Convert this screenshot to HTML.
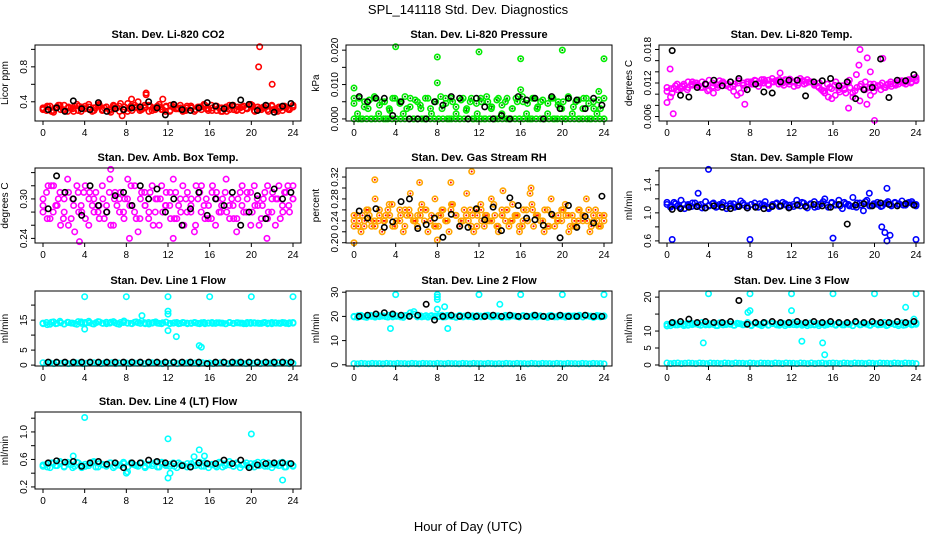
<!DOCTYPE html>
<html><head><meta charset="utf-8"><style>
body{margin:0;background:#fff;}
svg{display:block;font-family:"Liberation Sans",sans-serif;}
.t{font-weight:bold;font-size:11px;}
.tk{font-size:10px;}
</style></head><body>
<svg id="c" width="936" height="540">
<text x="468" y="14" text-anchor="middle" font-size="13">SPL_141118  Std. Dev. Diagnostics</text>
<text x="468" y="531" text-anchor="middle" font-size="13">Hour of Day (UTC)</text>
</svg>
<script>
const xTicks=[0,4,8,12,16,20,24];
// CO2
const co2Main=[0.33,0.30,0.35,0.28,0.34,0.31,0.36,0.29,0.33,0.35,0.30,0.34,0.32,0.37,0.29,0.33,0.35,0.31,0.34,0.30,0.36,0.33,0.38,0.31,0.29,0.35,0.33,0.40,0.31,0.34,0.36,0.30,0.33,0.37,0.31,0.35,0.29,0.34,0.32,0.36,0.30,0.33,0.35,0.29,0.34,0.31,0.36,0.32,0.30,0.35,0.33,0.29,0.34,0.31,0.36,0.30,0.33,0.35,0.32,0.37,0.30,0.34,0.31,0.33,0.29,0.35,0.32,0.34,0.30,0.33,0.31,0.34];
const co2B=[0.31,0.35,0.29,0.33,0.36,0.30,0.34,0.32,0.37,0.29,0.35,0.31,0.33,0.36,0.30,0.34,0.28,0.33,0.35,0.31,0.38,0.30,0.34,0.32,0.36,0.29,0.33,0.35,0.31,0.34,0.30,0.36,0.32,0.29,0.35,0.33,0.31,0.34,0.37,0.30,0.33,0.35,0.29,0.32,0.36,0.31,0.34,0.30,0.33,0.35,0.29,0.32,0.34,0.31,0.36,0.30,0.33,0.35,0.31,0.34];
const co2C=[0.32,0.34,0.30,0.36,0.31,0.33,0.29,0.35,0.32,0.34,0.30,0.37,0.33,0.31,0.35,0.29,0.34,0.32,0.36,0.30,0.33,0.35,0.31,0.34,0.29,0.36,0.32,0.33,0.30,0.35,0.31,0.34,0.32,0.36,0.30,0.33,0.29,0.35,0.31,0.34,0.32,0.36,0.30,0.33,0.35,0.31,0.29,0.34,0.32,0.36];
const co2Black=[0.31,0.33,0.29,0.41,0.32,0.31,0.39,0.29,0.32,0.31,0.33,0.34,0.40,0.33,0.25,0.37,0.31,0.30,0.33,0.39,0.35,0.32,0.36,0.42,0.37,0.30,0.36,0.28,0.35,0.38];
const co2OutX=[20.8,20.7,22.0,9.9,9.9,8.5,7.6,11.5];
const co2OutY=[1.03,0.80,0.60,0.50,0.48,0.43,0.24,0.43];
// Pressure
const presMain=[0.006,0.0015,0.0,0.005,0.003,0.0,0.006,0.0015,0.005,0.0,0.003,0.006,0.0,0.005,0.0015,0.003,0.006,0.0,0.005,0.003,0.0,0.006,0.0015,0.005,0.0,0.003,0.006,0.0,0.005,0.0015,0.0,0.006,0.003,0.005,0.0,0.0015,0.006,0.0,0.005,0.003,0.0,0.006,0.0015,0.005,0.0,0.003,0.006,0.0,0.005,0.0015,0.0,0.006,0.003,0.005,0.0,0.0015,0.006,0.0,0.005,0.003,0.0,0.006,0.0015,0.005,0.0,0.003,0.006,0.0,0.005,0.0015,0.003,0.0];
const presB=[0.0,0.0,0.0,0.0,0.0,0.0,0.0,0.0,0.0,0.0,0.0,0.0,0.0,0.0,0.0,0.0,0.0,0.0,0.0,0.0,0.0,0.0,0.0,0.0,0.0,0.0,0.0,0.0,0.0,0.0,0.0,0.0,0.0,0.0,0.0,0.0,0.0,0.0,0.0,0.0,0.0,0.0,0.0,0.0,0.0,0.0,0.0,0.0,0.0,0.0,0.0,0.0,0.0,0.0,0.0,0.0,0.0,0.0,0.0,0.0];
const presC=[0.0045,0.006,0.0035,0.0055,0.0065,0.004,0.005,0.0025,0.006,0.0045,0.0065,0.0035,0.0055,0.004,0.006,0.003,0.005,0.0065,0.0045,0.006,0.0035,0.0055,0.0025,0.006,0.0045,0.005,0.0065,0.0035,0.0055,0.004,0.006,0.003,0.005,0.0065,0.0045,0.006,0.0035,0.0055,0.0045,0.006,0.004,0.005,0.0065,0.0035,0.0055,0.006,0.0045,0.003,0.0055,0.006];
const presBlack=[0.0065,0.005,0.006,0.006,0.001,0.005,0.0,0.0,0.0,0.005,0.004,0.0065,0.006,0.0,0.006,0.0035,0.0,0.001,0.0,0.0065,0.0055,0.006,0.0,0.0065,0.003,0.006,0.0055,0.003,0.006,0.004];
const presOutX=[0,4,8,8,12,16,16,20,24,23.5];
const presOutY=[0.009,0.021,0.018,0.0105,0.0195,0.0175,0.0085,0.020,0.0175,0.008];
// Temp
const tempMain=[0.0085,0.0095,0.011,0.0108,0.011,0.0115,0.0112,0.0118,0.012,0.0115,0.0122,0.0118,0.0125,0.012,0.0118,0.0124,0.012,0.0115,0.0112,0.0105,0.0098,0.0102,0.011,0.0118,0.0122,0.0125,0.012,0.0126,0.0123,0.0125,0.0128,0.0124,0.0126,0.012,0.0125,0.0127,0.0122,0.0125,0.0128,0.0124,0.0126,0.0122,0.0118,0.0114,0.0108,0.0102,0.0095,0.0092,0.0098,0.0108,0.0115,0.0102,0.0125,0.0095,0.0135,0.0088,0.011,0.0082,0.0098,0.0105,0.0115,0.0108,0.0112,0.0118,0.0114,0.012,0.0118,0.0124,0.0122,0.0126,0.0128,0.013];
const tempB=[0.0105,0.011,0.0115,0.0112,0.0118,0.0122,0.0116,0.012,0.0112,0.0118,0.0108,0.0102,0.0112,0.012,0.0116,0.0122,0.0118,0.0124,0.012,0.0122,0.0118,0.0124,0.012,0.0126,0.0118,0.0122,0.0124,0.012,0.0126,0.0118,0.0122,0.0116,0.0124,0.012,0.0122,0.0118,0.0112,0.0105,0.0118,0.011,0.0122,0.0112,0.0108,0.012,0.0102,0.0112,0.0118,0.0122,0.0112,0.0118,0.0115,0.012,0.0116,0.0122,0.0118,0.0124,0.012,0.0125,0.0122,0.0126];
const tempC=[0.0112,0.0102,0.0118,0.0114,0.0108,0.0122,0.0116,0.0112,0.0106,0.0114,0.0116,0.0122,0.0118,0.0114,0.012,0.0116,0.0122,0.0118,0.0114,0.012,0.0116,0.0122,0.0118,0.0116,0.0122,0.0114,0.012,0.0118,0.0122,0.0116,0.012,0.0106,0.0112,0.0116,0.0104,0.011,0.0112,0.0106,0.0114,0.0108,0.0118,0.0112,0.0116,0.0112,0.0118,0.0116,0.0122,0.0118,0.012,0.0124];
const tempBlack=[0.0178,0.0098,0.0095,0.0112,0.0118,0.0125,0.0115,0.0122,0.0128,0.0108,0.0118,0.0104,0.0102,0.0122,0.0125,0.0125,0.0097,0.0122,0.0124,0.0128,0.0115,0.0122,0.0092,0.0108,0.0112,0.0163,0.0094,0.0125,0.0124,0.0135];
const tempOutX=[0.3,0.6,18.6,18.5,19.3,19.6,20.8,20.0,17.5,7.5,10.9];
const tempOutY=[0.0145,0.0065,0.018,0.0152,0.0165,0.014,0.0164,0.0053,0.0075,0.0082,0.0138];
// Amb box temp
const ambMain=[0.28,0.31,0.27,0.32,0.29,0.26,0.30,0.33,0.27,0.25,0.31,0.28,0.32,0.26,0.29,0.31,0.27,0.30,0.28,0.33,0.26,0.29,0.31,0.27,0.30,0.32,0.28,0.25,0.31,0.29,0.27,0.32,0.30,0.26,0.28,0.31,0.29,0.33,0.27,0.30,0.26,0.31,0.28,0.25,0.30,0.32,0.27,0.29,0.31,0.26,0.28,0.30,0.33,0.27,0.29,0.25,0.31,0.28,0.30,0.26,0.32,0.29,0.27,0.31,0.28,0.30,0.26,0.32,0.29,0.31,0.28,0.30];
const ambB=[0.30,0.27,0.32,0.29,0.31,0.28,0.26,0.30,0.32,0.29,0.27,0.31,0.30,0.28,0.32,0.29,0.26,0.31,0.30,0.28,0.33,0.29,0.27,0.30,0.31,0.28,0.26,0.30,0.32,0.29,0.31,0.27,0.29,0.32,0.28,0.30,0.26,0.31,0.29,0.27,0.32,0.30,0.28,0.31,0.29,0.27,0.30,0.32,0.28,0.31,0.29,0.26,0.30,0.32,0.28,0.30,0.27,0.31,0.29,0.32];
const ambC=[0.29,0.32,0.28,0.30,0.27,0.31,0.29,0.28,0.31,0.30,0.28,0.29,0.27,0.31,0.30,0.28,0.30,0.29,0.32,0.27,0.29,0.31,0.28,0.30,0.29,0.27,0.31,0.28,0.30,0.29,0.32,0.28,0.30,0.27,0.31,0.29,0.28,0.30,0.27,0.29,0.31,0.28,0.30,0.29,0.27,0.31,0.30,0.28,0.32,0.30];
const ambBlack=[0.285,0.335,0.31,0.30,0.275,0.32,0.29,0.28,0.305,0.31,0.29,0.32,0.30,0.315,0.28,0.30,0.26,0.285,0.31,0.275,0.30,0.29,0.31,0.26,0.28,0.305,0.27,0.315,0.30,0.31];
const ambOutX=[6.5,3.5,12.5,8.3,21.5];
const ambOutY=[0.345,0.235,0.24,0.24,0.24];
// RH
const rhMain=[0.23,0.25,0.22,0.24,0.26,0.23,0.28,0.24,0.22,0.25,0.27,0.23,0.24,0.26,0.22,0.25,0.29,0.24,0.23,0.26,0.24,0.22,0.25,0.28,0.23,0.26,0.24,0.22,0.27,0.25,0.23,0.24,0.29,0.26,0.22,0.25,0.27,0.23,0.24,0.28,0.25,0.22,0.26,0.24,0.23,0.27,0.25,0.22,0.24,0.26,0.29,0.23,0.25,0.24,0.22,0.26,0.28,0.23,0.25,0.24,0.27,0.22,0.25,0.23,0.26,0.24,0.28,0.22,0.25,0.24,0.23,0.25];
const rhB=[0.24,0.23,0.25,0.26,0.24,0.23,0.25,0.24,0.26,0.27,0.24,0.25,0.23,0.26,0.24,0.25,0.27,0.26,0.24,0.23,0.25,0.26,0.24,0.27,0.25,0.23,0.26,0.24,0.25,0.23,0.26,0.25,0.24,0.27,0.23,0.25,0.26,0.24,0.25,0.23,0.26,0.24,0.27,0.25,0.24,0.26,0.23,0.25,0.24,0.26,0.25,0.23,0.24,0.26,0.25,0.24,0.23,0.26,0.25,0.24];
const rhC=[0.25,0.24,0.23,0.25,0.24,0.26,0.24,0.25,0.23,0.24,0.26,0.25,0.24,0.25,0.26,0.24,0.23,0.25,0.24,0.26,0.25,0.24,0.25,0.23,0.26,0.24,0.25,0.24,0.23,0.25,0.26,0.24,0.25,0.23,0.24,0.26,0.25,0.24,0.23,0.25,0.24,0.26,0.25,0.23,0.24,0.25,0.26,0.24,0.23,0.25];
const rhBlack=[0.258,0.245,0.262,0.228,0.238,0.275,0.28,0.226,0.233,0.245,0.21,0.252,0.23,0.228,0.262,0.242,0.265,0.222,0.282,0.268,0.245,0.242,0.232,0.252,0.209,0.268,0.228,0.248,0.236,0.285];
const rhOutX=[11.3,2.0,6.3,9.3,0.0,8.0,14.3,17.0];
const rhOutY=[0.33,0.315,0.31,0.31,0.20,0.205,0.295,0.30];
// Sample flow
const sfMain=[1.12,1.08,1.15,1.10,1.18,1.06,1.12,1.09,1.14,1.11,1.07,1.16,1.10,1.13,1.08,1.12,1.15,1.06,1.10,1.13,1.09,1.17,1.11,1.07,1.12,1.14,1.08,1.11,1.16,1.06,1.10,1.13,1.09,1.15,1.11,1.08,1.12,1.18,1.10,1.14,1.07,1.12,1.16,1.09,1.13,1.20,1.08,1.15,1.11,1.18,1.06,1.13,1.10,1.22,1.08,1.14,1.03,1.18,1.10,1.12,1.15,1.09,1.13,1.16,1.10,1.14,1.12,1.17,1.11,1.15,1.13,1.10];
const sfB=[1.15,1.10,1.13,1.08,1.12,1.10,1.14,1.09,1.12,1.07,1.11,1.14,1.09,1.12,1.10,1.13,1.08,1.11,1.14,1.10,1.12,1.09,1.13,1.11,1.08,1.12,1.14,1.10,1.13,1.11,1.09,1.12,1.15,1.10,1.13,1.08,1.12,1.16,1.11,1.14,1.12,1.10,1.15,1.12,1.09,1.14,1.11,1.16,1.10,1.13,1.12,1.10,1.14,1.12,1.15,1.13,1.11,1.14,1.16,1.12];
const sfBlack=[1.05,1.06,1.08,1.09,1.07,1.10,1.08,1.06,1.09,1.07,1.08,1.06,1.09,1.10,1.07,1.11,1.09,1.12,1.10,1.08,1.12,0.84,1.11,1.13,1.10,1.14,1.12,1.10,1.13,1.11];
const sfOutX=[4.0,0.5,8.0,16.0,24.0,21.2,21.0,21.5,20.7,21.2,19.5,3.0];
const sfOutY=[1.62,0.62,0.62,0.64,0.62,0.60,0.72,0.68,0.80,1.35,1.28,1.28];
// Line 1
const l1Main=[13.8,14.2,13.6,14.4,13.9,14.1,13.7,14.3,14.0,13.8,14.5,13.9,14.2,14.6,13.8,14.1,14.4,13.9,14.3,14.0,14.5,13.8,14.2,14.7,14.0,13.9,14.3,14.1,14.6,13.8,14.2,14.0,14.4,13.9,14.1,14.3,13.8,14.0,14.2,13.9,14.1,13.8,14.0,14.2,13.9,14.1,13.8,14.0,14.2,13.9,14.1,14.0,13.8,14.2,13.9,14.1,14.0,13.8,14.2,13.9,14.1,14.0,13.9,14.2,14.0,13.8,14.1,14.0,14.2,13.9,14.1,14.0];
const l1B=[14.0,13.5,14.3,13.8,14.6,13.7,14.2,14.0,13.6,14.4,13.9,14.1,13.7,14.5,14.0,13.8,14.3,14.1,13.6,14.2,14.0,13.8,14.4,13.9,14.1,13.7,14.2,14.0,13.8,14.3,13.9,14.1,13.8,14.2,14.0,13.9,14.1,13.8,14.2,14.0,13.9,14.1,14.0,13.8,14.2,13.9,14.1,14.0,13.8,14.2,14.0,13.9,14.1,13.8,14.2,14.0,13.9,14.1,13.8,14.2];
const l1Low=[0.8,0.6,0.7,0.5,0.8,0.6,0.7,0.5,0.6,0.8,0.7,0.5,0.6,0.7,0.8,0.6,0.5,0.7,0.6,0.8,0.5,0.7,0.6,0.7,0.5,0.8,0.6,0.7,0.5,0.6,0.8,0.7,0.6,0.5,0.7,0.6,0.8,0.5,0.7,0.6,0.8,0.6,0.7,0.5,0.8,0.6,0.7,0.5,0.6,0.8,0.7,0.5,0.6,0.7,0.8,0.6,0.5,0.7,0.6,0.8,0.5,0.7,0.6,0.7,0.5,0.8,0.6,0.7,0.5,0.6];
const l1Black=[1.0,1.0,1.0,1.0,1.0,1.0,1.0,1.0,1.0,1.0,1.0,1.0,1.0,1.0,1.0,1.0,1.0,1.0,1.0,0.5,1.0,1.0,1.0,1.0,1.0,1.0,1.0,1.0,1.0,1.0];
const l1OutX=[4,8,12,16,20,24,12,12,9.5,12,12.8,15,15.2,4];
const l1OutY=[22.8,22.8,22.8,22.8,22.8,22.8,18,17,16.5,11.5,9.5,6.5,6,12];
// Line 2
const l2Main=[20.0,19.6,20.4,19.8,20.2,20.0,19.7,20.3,20.1,19.9,20.5,19.8,20.2,20.0,19.6,20.4,21.5,22.0,19.8,20.2,20.0,19.7,20.3,20.1,19.9,20.5,19.8,20.2,20.0,19.6,20.4,19.8,20.2,20.0,19.7,20.3,20.1,19.9,20.5,19.8,20.2,20.0,19.6,20.4,19.8,20.2,20.0,19.7,20.3,20.1,19.9,20.5,19.8,20.2,20.0,19.6,20.4,19.8,20.2,20.0,19.7,20.3,20.1,19.9,20.5,19.8,20.2,20.0,19.6,20.4,19.8,20.2];
const l2B=[19.8,20.3,20.0,19.6,20.4,20.1,19.9,20.2,19.7,20.5,20.0,19.8,20.3,20.1,21.0,20.0,19.8,20.3,20.1,19.9,20.2,19.7,20.4,20.0,19.8,20.3,20.1,19.9,20.2,20.0,19.8,20.3,20.1,19.9,20.2,20.0,19.8,20.3,20.1,19.9,20.2,20.0,19.8,20.3,20.1,19.9,20.2,20.0,19.8,20.3,20.1,19.9,20.2,20.0,19.8,20.3,20.1,19.9,20.2,20.0];
const l2Low=[0.5,0.4,0.6,0.5,0.4,0.6,0.5,0.5,0.4,0.6,0.5,0.4,0.6,0.5,0.5,0.4,0.6,0.5,0.4,0.6,0.5,0.5,0.4,0.6,0.5,0.4,0.6,0.5,0.5,0.4,0.6,0.5,0.4,0.6,0.5,0.5,0.4,0.6,0.5,0.4,0.5,0.4,0.6,0.5,0.4,0.6,0.5,0.5,0.4,0.6,0.5,0.4,0.6,0.5,0.5,0.4,0.6,0.5,0.4,0.6,0.5,0.5,0.4,0.6,0.5,0.4,0.6,0.5,0.5,0.4];
const l2Black=[20.0,20.5,21.0,21.5,21.0,20.5,20.0,20.5,25.0,18.5,20.0,20.5,20.0,20.5,20.0,20.0,20.5,20.0,20.5,20.0,20.0,20.5,20.0,20.0,20.5,20.0,20.0,20.5,20.0,20.0];
const l2OutX=[4,8,12,16,20,24,3.5,9,8,14,8.7,8,8];
const l2OutY=[29,29,29,29,29,29,15,15,23,25,24,27,28];
// Line 3
const l3Main=[12.0,11.6,12.4,11.8,12.2,12.0,11.7,12.3,12.1,11.9,12.5,11.8,12.2,12.0,11.6,12.4,11.8,12.2,12.0,11.7,12.3,12.1,11.9,12.5,11.8,12.2,12.0,11.6,12.4,11.8,12.2,12.0,11.7,12.3,12.1,11.9,12.5,11.8,12.2,12.0,11.6,12.4,11.8,12.2,12.0,11.7,12.3,12.1,11.9,12.5,11.8,12.2,12.0,11.6,12.4,11.8,12.2,12.0,11.7,12.3,12.1,11.9,12.5,11.8,12.2,12.0,11.6,12.4,11.8,12.2,12.0,12.4];
const l3B=[11.5,12.2,11.8,12.0,11.6,12.3,11.9,12.1,11.7,12.2,11.8,12.0,11.6,12.3,11.9,12.1,11.7,12.2,11.8,12.0,11.6,12.3,11.9,12.1,11.7,12.2,11.8,12.0,11.6,12.3,11.9,12.1,11.7,12.2,11.8,12.0,11.6,12.3,11.9,12.1,11.7,12.2,11.8,12.0,11.6,12.3,11.9,12.1,11.7,12.2,11.8,12.0,11.6,12.3,11.9,12.1,11.7,12.2,11.8,12.0];
const l3Low=[0.6,0.4,0.5,0.6,0.4,0.5,0.6,0.5,0.4,0.6,0.5,0.4,0.6,0.5,0.5,0.4,0.6,0.5,0.4,0.6,0.5,0.5,0.4,0.6,0.5,0.4,0.6,0.5,0.5,0.4,0.6,0.5,0.4,0.6,0.5,0.5,0.4,0.6,0.5,0.4,0.6,0.4,0.5,0.6,0.4,0.5,0.6,0.5,0.4,0.6,0.5,0.4,0.6,0.5,0.5,0.4,0.6,0.5,0.4,0.6,0.5,0.5,0.4,0.6,0.5,0.4,0.6,0.5,0.5,0.4];
const l3Black=[12.5,12.8,13.5,12.5,12.8,12.5,12.5,12.8,19.0,12.0,12.5,12.5,12.8,12.5,12.5,12.8,12.5,12.8,12.5,12.8,12.5,12.5,12.8,12.5,12.8,12.5,12.5,12.8,12.5,12.8];
const l3OutX=[4,8,12,16,20,24,3.5,7.8,12,13,15,15.2,23,23.8,8];
const l3OutY=[21,21,21,21,21,21,6.5,15.5,16,7,6.5,3,17,13.5,16];
// Line 4
const l4Main=[0.50,0.53,0.48,0.55,0.51,0.54,0.49,0.56,0.52,0.50,0.55,0.48,0.53,0.51,0.56,0.49,0.54,0.52,0.50,0.55,0.48,0.53,0.51,0.54,0.42,0.55,0.52,0.50,0.55,0.48,0.53,0.51,0.56,0.49,0.54,0.52,0.50,0.55,0.48,0.53,0.51,0.54,0.49,0.56,0.52,0.50,0.55,0.48,0.53,0.51,0.56,0.49,0.54,0.52,0.50,0.55,0.48,0.53,0.51,0.54,0.49,0.56,0.52,0.50,0.55,0.48,0.53,0.51,0.56,0.49,0.54,0.50];
const l4B=[0.52,0.49,0.55,0.51,0.57,0.50,0.53,0.48,0.56,0.52,0.50,0.54,0.57,0.49,0.53,0.51,0.55,0.50,0.52,0.56,0.49,0.53,0.51,0.55,0.50,0.52,0.54,0.49,0.56,0.51,0.53,0.50,0.55,0.52,0.49,0.54,0.51,0.56,0.50,0.53,0.52,0.49,0.55,0.51,0.57,0.50,0.53,0.52,0.55,0.49,0.54,0.51,0.56,0.50,0.53,0.52,0.55,0.49,0.54,0.51];
const l4Black=[0.55,0.58,0.56,0.57,0.50,0.55,0.57,0.53,0.55,0.48,0.55,0.55,0.59,0.57,0.55,0.54,0.51,0.49,0.55,0.54,0.54,0.59,0.54,0.59,0.48,0.52,0.54,0.55,0.55,0.54];
const l4OutX=[4,12,20,15,15.5,12,23,8,14.5,12.2,2.9];
const l4OutY=[1.21,0.90,0.97,0.74,0.65,0.33,0.30,0.40,0.64,0.40,0.65];

const svg=document.getElementById('c');
const NS='http://www.w3.org/2000/svg';
function mk(tag,attrs,parent){const e=document.createElementNS(NS,tag);for(const k in attrs)e.setAttribute(k,attrs[k]);(parent||svg).appendChild(e);return e;}

const cols=[[35,301],[346,612],[659,924]];
const rows=[[45,121],[168,243],[291,366],[412,489]];
const panels=[
 {name:'co2',title:'Stan. Dev. Li-820 CO2',yl:'Licor ppm',c:0,r:0,ymin:0.18,ymax:1.05,ticks:[0.4,0.6,0.8,1.0],labs:['0.4','0.8'],col:'#ff0000',main:[co2Main,co2B,co2C],black:co2Black,ox:co2OutX,oy:co2OutY},
 {name:'pressure',title:'Stan. Dev. Li-820 Pressure',yl:'kPa',c:1,r:0,ymin:-0.0006,ymax:0.0215,ticks:[0,0.005,0.01,0.015,0.02],labs:['0.000','0.010','0.020'],col:'#00ee00',inner:'#007700',main:[presMain,presB,presC],black:presBlack,ox:presOutX,oy:presOutY},
 {name:'temp',title:'Stan. Dev. Li-820 Temp.',yl:'degrees C',c:2,r:0,ymin:0.0052,ymax:0.0188,ticks:[0.006,0.008,0.01,0.012,0.014,0.016,0.018],labs:['0.006','0.012','0.018'],col:'#ff00ff',main:[tempMain,tempB,tempC],black:tempBlack,ox:tempOutX,oy:tempOutY},
 {name:'amb-temp',title:'Stan. Dev. Amb. Box Temp.',yl:'degrees C',c:0,r:1,ymin:0.233,ymax:0.347,ticks:[0.24,0.26,0.28,0.30,0.32,0.34],labs:['0.24','0.30'],col:'#ff00ff',main:[ambMain,ambB,ambC],black:ambBlack,ox:ambOutX,oy:ambOutY},
 {name:'rh',title:'Stan. Dev. Gas Stream RH',yl:'percent',c:1,r:1,ymin:0.1995,ymax:0.3365,ticks:[0.20,0.22,0.24,0.26,0.28,0.30,0.32],labs:['0.20','0.24','0.28','0.32'],col:'#ffa500',inner:'#ff0000',main:[rhMain,rhB,rhC],black:rhBlack,ox:rhOutX,oy:rhOutY},
 {name:'sample-flow',title:'Stan. Dev. Sample Flow',yl:'ml/min',c:2,r:1,ymin:0.57,ymax:1.64,ticks:[0.6,0.8,1.0,1.2,1.4,1.6],labs:['0.6','1.0','1.4'],col:'#0000ff',main:[sfMain,sfB],black:sfBlack,ox:sfOutX,oy:sfOutY},
 {name:'line1',title:'Stan. Dev. Line 1 Flow',yl:'ml/min',c:0,r:2,ymin:-0.3,ymax:24.7,ticks:[0,5,10,15,20],labs:['0','5','15'],col:'#00ffff',main:[l1Main,l1B,l1Low],black:l1Black,ox:l1OutX,oy:l1OutY},
 {name:'line2',title:'Stan. Dev. Line 2 Flow',yl:'ml/min',c:1,r:2,ymin:-0.5,ymax:30.5,ticks:[0,10,20,30],labs:['0','10','20','30'],col:'#00ffff',main:[l2Main,l2B,l2Low],black:l2Black,ox:l2OutX,oy:l2OutY},
 {name:'line3',title:'Stan. Dev. Line 3 Flow',yl:'ml/min',c:2,r:2,ymin:-0.3,ymax:21.8,ticks:[0,5,10,15,20],labs:['0','5','10','20'],col:'#00ffff',main:[l3Main,l3B,l3Low],black:l3Black,ox:l3OutX,oy:l3OutY},
 {name:'line4',title:'Stan. Dev. Line 4 (LT) Flow',yl:'ml/min',c:0,r:3,ymin:0.17,ymax:1.29,ticks:[0.2,0.4,0.6,0.8,1.0,1.2],labs:['0.2','0.6','1.0'],col:'#00ffff',main:[l4Main,l4B],black:l4Black,ox:l4OutX,oy:l4OutY}
];

panels.forEach(p=>{
 const [L,R]=cols[p.c],[T,B]=rows[p.r];
 const xL=L+8,xR=R-8;
 const sx=h=>xL+(xR-xL)*h/24;
 const sy=v=>B-(B-T)*(v-p.ymin)/(p.ymax-p.ymin);
 const g=mk('g',{});
 
 
 const t=mk('text',{x:(L+R)/2,y:T-7,'text-anchor':'middle',class:'t'},g);t.textContent=p.title;
 
 
 const cx=L-27,cy=(T+B)/2;
 const yt=mk('text',{x:cx,y:cy,'text-anchor':'middle',class:'tk',transform:`rotate(-90 ${cx} ${cy})`},g);yt.textContent=p.yl;
 
 
 const pts=mk('g',{fill:'none','stroke-width':1.6},g);
 
 
 const dot=(h,v,c,inner)=>{const y=sy(v);if(y<T-3||y>B+3)return;mk('circle',{cx:sx(h),cy:y,r:2.7,stroke:c},pts);if(inner)mk('circle',{cx:sx(h),cy:y,r:1,fill:inner,stroke:'none'},pts);};
 p.main.forEach(arr=>arr.forEach((v,i)=>dot(24*i/(arr.length-1),v,p.col,p.inner)));
 p.ox.forEach((h,i)=>dot(h,p.oy[i],p.col,p.inner));
 p.black.forEach((v,i)=>dot(0.5+23.3*i/(p.black.length-1),v,'#000'));
 const box=mk('rect',{x:L,y:T,width:R-L,height:B-T,fill:'none',stroke:'#000','stroke-width':1},g);
 
 
 const xa=mk('g',{},g);
 
 
 mk('line',{x1:sx(0),x2:sx(24),y1:B,y2:B,stroke:'#000'},xa);
 xTicks.forEach(h=>{mk('line',{x1:sx(h),x2:sx(h),y1:B,y2:B+4,stroke:'#000'},xa);const l=mk('text',{x:sx(h),y:B+15,'text-anchor':'middle',class:'tk'},xa);l.textContent=h;});
 const ya=mk('g',{},g);
 
 
 p.ticks.forEach(v=>{const y=sy(v);mk('line',{x1:L-4,x2:L,y1:y,y2:y,stroke:'#000'},ya);});
 p.labs.forEach(s=>{const y=sy(parseFloat(s)),x=L-8;const l=mk('text',{x:x,y:y,'text-anchor':'middle',class:'tk',transform:`rotate(-90 ${x} ${y})`},ya);l.textContent=s;});
});
</script>
</body></html>
